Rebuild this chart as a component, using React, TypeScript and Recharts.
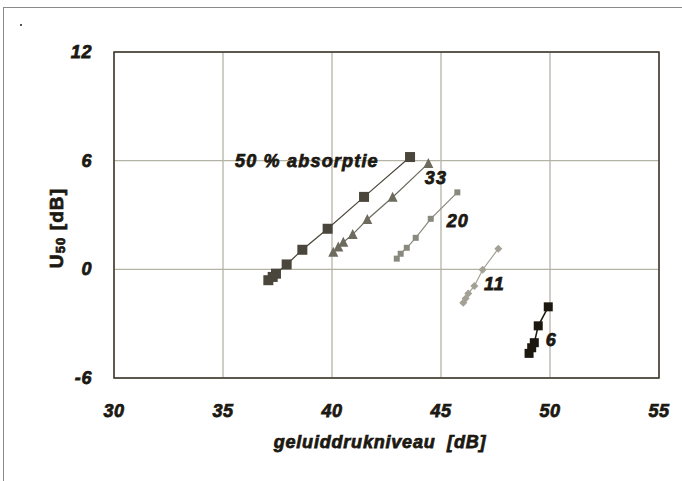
import React from 'react';
import {
  CartesianGrid,
  Label,
  ReferenceArea,
  ReferenceDot,
  Scatter,
  ScatterChart,
  XAxis,
  YAxis,
} from 'recharts';

// geluiddrukniveau [dB] / U50 [dB] per absorptie-klasse
const abs50 = [
  { x: 37.08, y: -0.6 },
  { x: 37.28, y: -0.42 },
  { x: 37.43, y: -0.24 },
  { x: 37.92, y: 0.27 },
  { x: 38.64, y: 1.08 },
  { x: 39.8, y: 2.24 },
  { x: 41.47, y: 4.0 },
  { x: 43.58, y: 6.2 },
];
const abs33 = [
  { x: 40.06, y: 0.95 },
  { x: 40.29, y: 1.23 },
  { x: 40.52, y: 1.5 },
  { x: 40.95, y: 1.93 },
  { x: 41.62, y: 2.75 },
  { x: 42.78, y: 3.98 },
  { x: 44.42, y: 5.85 },
];
const abs20 = [
  { x: 42.97, y: 0.59 },
  { x: 43.15, y: 0.86 },
  { x: 43.43, y: 1.19 },
  { x: 43.84, y: 1.74 },
  { x: 44.53, y: 2.79 },
  { x: 45.75, y: 4.25 },
];
const abs11 = [
  { x: 46.02, y: -1.85 },
  { x: 46.13, y: -1.61 },
  { x: 46.25, y: -1.34 },
  { x: 46.53, y: -0.92 },
  { x: 46.91, y: -0.02 },
  { x: 47.63, y: 1.14 },
];
const abs6 = [
  { x: 49.04, y: -4.64 },
  { x: 49.16, y: -4.33 },
  { x: 49.28, y: -4.05 },
  { x: 49.46, y: -3.12 },
  { x: 49.92, y: -2.07 },
];

const xTicks = [30, 35, 40, 45, 50, 55];
const yTicks = [-6, 0, 6, 12];

const seriesLabels = [
  { text: '50 % absorptie', x: 35.55, y: 6.0 },
  { text: '33', x: 44.26, y: 5.02 },
  { text: '20', x: 45.26, y: 2.65 },
  { text: '11', x: 46.97, y: -0.83 },
  { text: '6', x: 49.8, y: -3.92 },
];

const FONT = '"Liberation Sans", Arial, sans-serif';
const INK = '#1c1912';

// shared look for all chart text: heavy bold italic
const textStyle: React.CSSProperties = {
  fill: INK,
  stroke: INK,
  strokeWidth: 0.75,
  fontFamily: FONT,
  fontWeight: 700,
  fontStyle: 'italic',
  fontSize: 18,
};

const renderXTick = (p: any) => (
  <text
    x={p.x}
    y={411}
    textAnchor="middle"
    dominantBaseline="central"
    letterSpacing={0.6}
    style={textStyle}
  >
    {p.payload.value}
  </text>
);

const renderYTick = (p: any) => (
  <text
    x={92}
    y={p.y}
    textAnchor="end"
    dominantBaseline="central"
    letterSpacing={0.6}
    style={textStyle}
  >
    {p.payload.value}
  </text>
);

const SeriesLabel = (text: string) => (props: any) => {
  const { viewBox } = props;
  const x = viewBox.x + (viewBox.width || 0) / 2;
  const y = viewBox.y + (viewBox.height || 0) / 2;
  return (
    <text x={x} y={y} dominantBaseline="central" letterSpacing={1.2} style={textStyle}>
      {text}
    </text>
  );
};

const square = (size: number, fill: string) => (props: any) => {
  const { cx, cy } = props;
  return <rect x={cx - size / 2} y={cy - size / 2} width={size} height={size} fill={fill} />;
};

const triangle = (size: number, fill: string) => (props: any) => {
  const { cx, cy } = props;
  const h = size * 0.9;
  return (
    <polygon
      points={`${cx},${cy - h / 2 - 1} ${cx - size / 2},${cy + h / 2} ${cx + size / 2},${cy + h / 2}`}
      fill={fill}
    />
  );
};

const diamond = (size: number, fill: string) => (props: any) => {
  const { cx, cy } = props;
  const r = size / 2;
  return (
    <polygon points={`${cx},${cy - r} ${cx + r},${cy} ${cx},${cy + r} ${cx - r},${cy}`} fill={fill} />
  );
};

const XTitle = () => (
  <text
    x={380}
    y={442}
    textAnchor="middle"
    dominantBaseline="central"
    letterSpacing={0.8}
    style={{ ...textStyle, whiteSpace: 'pre' }}
  >
    {'geluiddrukniveau  [dB]'}
  </text>
);

const YTitle = () => {
  const cx = 56;
  const cy = 228;
  return (
    <text
      x={cx}
      y={cy}
      transform={`rotate(-90, ${cx}, ${cy})`}
      textAnchor="middle"
      dominantBaseline="central"
      letterSpacing={1.1}
      style={{ ...textStyle, fontStyle: 'normal', fontSize: 19, whiteSpace: 'pre' }}
    >
      U
      <tspan fontSize={13} dy={4}>50</tspan>
      <tspan dy={-4}>{' [dB]'}</tspan>
    </text>
  );
};

export default function App() {
  return (
    <div
      style={{
        position: 'absolute',
        left: 0,
        top: 0,
        width: 682,
        height: 481,
        background: '#fff',
        overflow: 'hidden',
      }}
    >
      <div
        style={{
          position: 'absolute',
          left: 3,
          top: 7,
          width: 700,
          height: 500,
          borderLeft: '1px solid #8a8a8a',
          borderTop: '1px solid #8a8a8a',
        }}
      />
      <div style={{ position: 'absolute', left: 20, top: 24, width: 2, height: 2, background: '#555' }} />
      <div style={{ position: 'absolute', left: 0, top: 0 }}>
        <ScatterChart width={682} height={481} margin={{ top: 52, right: 23, bottom: 63, left: 54 }}>
          <CartesianGrid stroke="#b5b2a6" strokeWidth={1.3} horizontal vertical />
          <XAxis
            type="number"
            dataKey="x"
            domain={[30, 55]}
            ticks={xTicks}
            allowDataOverflow
            axisLine={false}
            tickLine={false}
            height={40}
            tick={renderXTick}
          >
            <Label content={<XTitle />} />
          </XAxis>
          <YAxis
            type="number"
            dataKey="y"
            domain={[-6, 12]}
            ticks={yTicks}
            allowDataOverflow
            axisLine={false}
            tickLine={false}
            width={60}
            tick={renderYTick}
          >
            <Label content={<YTitle />} />
          </YAxis>
          <ReferenceArea x1={30} x2={55} y1={-6} y2={12} fill="none" stroke="#3a352a" strokeWidth={1.5} />
          <Scatter
            data={abs50}
            fill="#4a463b"
            line={{ stroke: '#4a463b', strokeWidth: 1.2 }}
            shape={square(10, '#4a463b')}
            isAnimationActive={false}
          />
          <Scatter
            data={abs33}
            fill="#6c6b5e"
            line={{ stroke: '#6c6b5e', strokeWidth: 1.2 }}
            shape={triangle(10, '#6c6b5e')}
            isAnimationActive={false}
          />
          <Scatter
            data={abs20}
            fill="#8a897d"
            line={{ stroke: '#8a897d', strokeWidth: 1.2 }}
            shape={square(6, '#8a897d')}
            isAnimationActive={false}
          />
          <Scatter
            data={abs11}
            fill="#a3a195"
            line={{ stroke: '#a3a195', strokeWidth: 1.2 }}
            shape={diamond(8, '#a3a195')}
            isAnimationActive={false}
          />
          <Scatter
            data={abs6}
            fill="#1c1810"
            line={{ stroke: '#1c1810', strokeWidth: 1.5 }}
            shape={square(9, '#1c1810')}
            isAnimationActive={false}
          />
          {seriesLabels.map((s) => (
            <ReferenceDot
              key={s.text}
              x={s.x}
              y={s.y}
              r={0}
              fill="none"
              stroke="none"
              label={SeriesLabel(s.text)}
            />
          ))}
        </ScatterChart>
      </div>
    </div>
  );
}
